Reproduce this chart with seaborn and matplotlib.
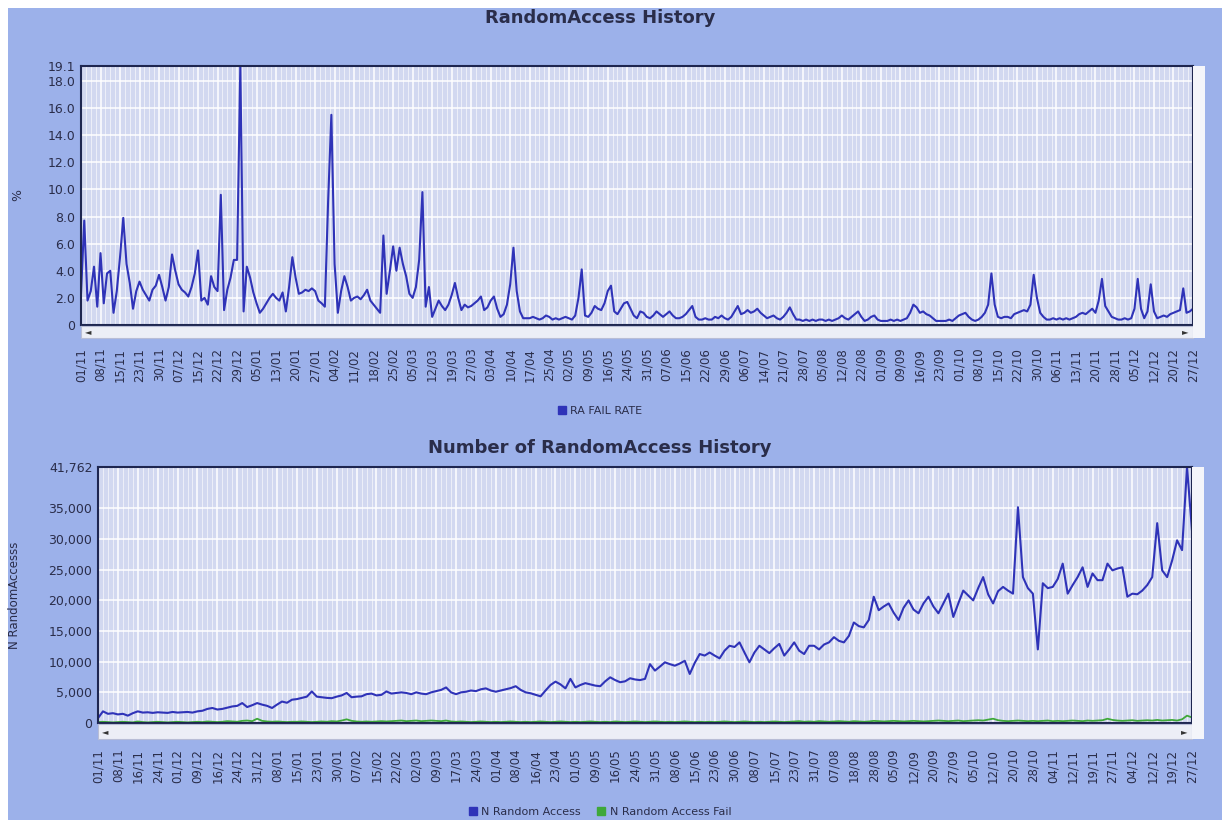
import numpy as np
import matplotlib
matplotlib.use("Agg")
import matplotlib.pyplot as plt
from matplotlib.patches import Rectangle, Patch
from matplotlib.ticker import MultipleLocator
import seaborn as sns

# RA fail rate (%), 6 samples per date label
fail_rate = [
    2.3, 7.7, 1.8, 2.5, 4.3, 1.35, 5.3, 1.6, 3.8, 4.0,
    0.9, 2.5, 5.0, 7.9, 4.5, 3.1, 1.2, 2.5, 3.2, 2.6,
    2.2, 1.8, 2.6, 2.9, 3.7, 2.8, 1.8, 2.8, 5.2, 4.0,
    3.0, 2.6, 2.4, 2.1, 2.8, 3.8, 5.5, 1.8, 2.0, 1.5,
    3.6, 2.8, 2.5, 9.6, 1.1, 2.6, 3.5, 4.8, 4.8, 19.1,
    1.0, 4.3, 3.5, 2.4, 1.6, 0.9, 1.2, 1.6, 2.0, 2.3,
    2.0, 1.8, 2.4, 1.0, 2.8, 5.0, 3.5, 2.3, 2.4, 2.6,
    2.5, 2.7, 2.5, 1.8, 1.6, 1.35, 9.1, 15.5, 4.5, 0.9,
    2.5, 3.6, 2.8, 1.8, 2.0, 2.1, 1.9, 2.2, 2.6, 1.8,
    1.5, 1.2, 0.9, 6.6, 2.3, 4.0, 5.8, 4.0, 5.7, 4.5,
    3.6, 2.3, 2.0, 2.8, 4.8, 9.8, 1.35, 2.8, 0.6, 1.2,
    1.8, 1.4, 1.1, 1.5, 2.2, 3.1, 2.0, 1.1, 1.5, 1.3,
    1.4, 1.6, 1.8, 2.1, 1.1, 1.3, 1.8, 2.1, 1.2, 0.6,
    0.8, 1.5, 3.0, 5.7, 2.5, 1.0, 0.5, 0.5, 0.5, 0.6,
    0.5, 0.4, 0.5, 0.7, 0.6, 0.4, 0.5, 0.4, 0.5, 0.6,
    0.5, 0.4, 0.7, 2.0, 4.1, 0.7, 0.6, 0.9, 1.4, 1.2,
    1.1, 1.6, 2.5, 2.9, 1.0, 0.8, 1.2, 1.6, 1.7, 1.2,
    0.7, 0.5, 1.0, 0.9, 0.6, 0.5, 0.7, 1.0, 0.8, 0.6,
    0.8, 1.0, 0.7, 0.5, 0.5, 0.6, 0.8, 1.1, 1.4, 0.6,
    0.4, 0.4, 0.5, 0.4, 0.4, 0.6, 0.5, 0.7, 0.5, 0.4,
    0.6, 1.0, 1.4, 0.8, 0.9, 1.1, 0.9, 1.0, 1.2, 0.9,
    0.7, 0.5, 0.6, 0.7, 0.5, 0.4, 0.6, 0.9, 1.3, 0.8,
    0.4, 0.4, 0.3, 0.4, 0.3, 0.4, 0.3, 0.4, 0.4, 0.3,
    0.4, 0.3, 0.4, 0.5, 0.7, 0.5, 0.4, 0.6, 0.8, 1.0,
    0.6, 0.3, 0.4, 0.6, 0.7, 0.4, 0.3, 0.3, 0.3, 0.4,
    0.3, 0.4, 0.3, 0.4, 0.5, 0.9, 1.5, 1.3, 0.9, 1.0,
    0.8, 0.7, 0.5, 0.3, 0.3, 0.3, 0.3, 0.4, 0.3, 0.5,
    0.7, 0.8, 0.9, 0.6, 0.4, 0.3, 0.4, 0.6, 0.9, 1.5,
    3.8, 1.5, 0.6, 0.5, 0.6, 0.6, 0.5, 0.8, 0.9, 1.0,
    1.1, 1.0, 1.5, 3.7, 2.0, 0.9, 0.6, 0.4, 0.4, 0.5,
    0.4, 0.5, 0.4, 0.5, 0.4, 0.5, 0.6, 0.8, 0.9, 0.8,
    1.0, 1.2, 0.9, 1.8, 3.4, 1.4, 1.0, 0.6, 0.5, 0.4,
    0.4, 0.5, 0.4, 0.5, 1.2, 3.4, 1.2, 0.5, 1.0, 3.0,
    1.0, 0.5, 0.6, 0.7, 0.6, 0.8, 0.9, 1.0, 1.1, 2.7,
    0.9, 1.0, 1.2,
]

top_dates = [
    "01/11", "08/11", "15/11", "23/11", "30/11", "07/12", "15/12", "22/12",
    "29/12", "05/01", "13/01", "20/01", "27/01", "04/02", "11/02", "18/02",
    "25/02", "05/03", "12/03", "19/03", "27/03", "03/04", "10/04", "17/04",
    "25/04", "02/05", "09/05", "16/05", "24/05", "31/05", "07/06", "15/06",
    "22/06", "29/06", "06/07", "14/07", "21/07", "28/07", "05/08", "12/08",
    "22/08", "01/09", "09/09", "16/09", "23/09", "01/10", "08/10", "15/10",
    "22/10", "30/10", "06/11", "13/11", "20/11", "28/11", "05/12", "12/12",
    "20/12", "27/12",
]

# number of random accesses, 4 samples per date label
n_access = [
    800, 1900, 1500, 1600, 1400, 1500, 1200, 1600, 1900, 1700,
    1750, 1650, 1750, 1700, 1650, 1800, 1700, 1750, 1800, 1700,
    1900, 2000, 2300, 2450, 2200, 2300, 2500, 2700, 2800, 3250,
    2600, 2900, 3250, 3000, 2800, 2450, 3000, 3500, 3300, 3800,
    3900, 4100, 4300, 5150, 4300, 4200, 4100, 4050, 4300, 4500,
    4900, 4200, 4300, 4350, 4700, 4800, 4500, 4600, 5150, 4800,
    4900, 5000, 4900, 4700, 5000, 4800, 4700, 5000, 5200, 5400,
    5800, 5000, 4700, 5000, 5100, 5300, 5200, 5500, 5650, 5300,
    5100, 5300, 5500, 5700, 6000, 5400, 5000, 4850, 4600, 4350,
    5300, 6200, 6750, 6300, 5650, 7200, 5800, 6200, 6500, 6300,
    6100, 6000, 6800, 7450, 7000, 6650, 6800, 7300, 7100, 7000,
    7200, 9600, 8550, 9200, 9900, 9600, 9350, 9700, 10150, 8000,
    9800, 11250, 11000, 11500, 11000, 10550, 11800, 12600, 12400, 13150,
    11500, 9900, 11500, 12600, 12000, 11400, 12200, 12900, 11000, 12000,
    13150, 11800, 11250, 12600, 12600, 12000, 12800, 13150, 14000, 13400,
    13150, 14200, 16400, 15800, 15600, 16800, 20600, 18400, 19000, 19500,
    18000, 16800, 18800, 20000, 18500, 17900, 19500, 20600, 19000, 17900,
    19500, 21100, 17300, 19500, 21600, 20800, 20000, 22000, 23800, 21000,
    19500, 21500, 22200, 21600, 21100, 35200, 23800, 22000, 21100, 12000,
    22800, 22000, 22200, 23500, 26000, 21100, 22500, 23800, 25400, 22200,
    24400, 23300, 23300, 26000, 24900, 25200, 25400, 20600, 21100, 21000,
    21600, 22500, 23800, 32600, 24900, 23800, 26500, 29800, 28200, 41762,
    31400,
]

n_access_fail = [
    150, 200, 150, 100, 150, 200, 150, 100, 250, 150,
    100, 150, 200, 150, 100, 150, 200, 150, 100, 150,
    200, 150, 250, 200, 150, 200, 300, 250, 200, 350,
    400, 300, 700, 350, 250, 200, 250, 200, 150, 200,
    200, 250, 200, 150, 200, 250, 200, 300, 250, 400,
    600, 350, 250, 200, 250, 200, 250, 300, 250, 300,
    350, 400, 300, 350, 400, 300, 350, 400, 350, 300,
    400, 250, 200, 250, 200, 150, 200, 250, 200, 150,
    200, 150, 200, 250, 200, 150, 200, 150, 200, 250,
    200, 150, 200, 250, 200, 150, 200, 150, 200, 250,
    200, 150, 200, 150, 250, 200, 150, 200, 250, 200,
    150, 200, 250, 200, 150, 200, 150, 200, 250, 200,
    150, 200, 150, 200, 150, 200, 250, 200, 150, 200,
    250, 200, 150, 200, 150, 200, 250, 200, 150, 200,
    250, 300, 200, 250, 200, 300, 250, 200, 250, 300,
    250, 200, 300, 250, 200, 250, 350, 300, 250, 300,
    350, 300, 250, 300, 350, 300, 250, 300, 350, 400,
    350, 300, 350, 400, 300, 350, 400, 450, 400, 550,
    700, 450, 350, 300, 350, 400, 350, 300, 350, 300,
    350, 400, 300, 350, 300, 350, 400, 350, 300, 400,
    350, 400, 450, 700, 500, 400, 350, 400, 450, 350,
    400, 450, 400, 500, 400, 450, 500, 400, 600, 1200,
    900,
]

bottom_dates = [
    "01/11", "08/11", "16/11", "24/11", "01/12", "09/12", "16/12", "24/12",
    "31/12", "08/01", "15/01", "23/01", "30/01", "07/02", "15/02", "22/02",
    "02/03", "09/03", "17/03", "24/03", "01/04", "08/04", "16/04", "23/04",
    "01/05", "09/05", "16/05", "24/05", "31/05", "08/06", "15/06", "23/06",
    "30/06", "08/07", "15/07", "23/07", "31/07", "07/08", "18/08", "28/08",
    "05/09", "12/09", "20/09", "27/09", "05/10", "12/10", "20/10", "28/10",
    "04/11", "12/11", "19/11", "27/11", "04/12", "12/12", "19/12", "27/12",
]

sns.set_theme(style="white")
plt.rcParams['font.family'] = ['DejaVu Sans']

BG = "#9cb1ea"
PLOT_BG = "#d2d8f0"
LINE = "#2f33b8"
GREEN = "#3fa83a"
TXT = "#2a2d4a"
FRAME = "#1e2650"

W, H = 1226, 825
fig = plt.figure(figsize=(W / 100, H / 100), dpi=100)
fig.patch.set_facecolor("white")
fig.patches.append(Rectangle((8 / W, 5 / H), 1214 / W, 812 / H, transform=fig.transFigure,
                             facecolor=BG, edgecolor="none", zorder=-10))


def px(x0, y0, x1, y1):
    return [x0 / W, 1 - y1 / H, (x1 - x0) / W, (y1 - y0) / H]


def style_plot(ax, n, step, minor):
    ax.set_facecolor(PLOT_BG)
    ax.set_xlim(0, n - 1)
    ax.set_xticks(range(0, n, step))
    ax.xaxis.set_minor_locator(MultipleLocator(minor))
    ax.tick_params(axis="x", which="both", length=0, labelbottom=False)
    ax.tick_params(axis="y", length=3, color=FRAME, labelsize=9, labelcolor=TXT, pad=1)
    ax.grid(which="major", color="white", linewidth=1.1)
    ax.grid(which="minor", axis="x", color="white", linewidth=0.6, alpha=0.7)
    for s in ax.spines.values():
        s.set_color(FRAME)
        s.set_linewidth(1.5)
    ax.set_xlabel("")
    ax.set_ylabel("")


def scrollbar(rect, n, step, labels):
    sb = fig.add_axes(rect)
    sb.set_facecolor("#eceef6")
    sb.set_xlim(0, n - 1)
    sb.set_ylim(0, 1)
    sb.set_yticks([])
    sb.set_xticks(range(0, n, step))
    sb.set_xticklabels(labels, rotation=90, fontsize=8.5, color=TXT)
    sb.tick_params(axis="x", length=4, width=1, color=TXT, pad=3, direction="out")
    for s in sb.spines.values():
        s.set_color("#b8bdd6")
        s.set_linewidth(0.8)
    sb.text(0.004, 0.5, "\u25c4", transform=sb.transAxes, fontsize=6, color="#333",
            va="center", ha="left")
    sb.text(0.996, 0.5, "\u25ba", transform=sb.transAxes, fontsize=6, color="#333",
            va="center", ha="right")
    return sb


# top chart
n_top = len(fail_rate)
ax1 = fig.add_axes(px(81, 66, 1193, 325))
sns.lineplot(x=np.arange(n_top), y=fail_rate, ax=ax1, color=LINE, linewidth=1.5, legend=False)
style_plot(ax1, n_top, 6, 1.5)
ax1.set_ylim(0, 19.1)
yt = [0, 2, 4, 6, 8, 10, 12, 14, 16, 18, 19.1]
ax1.set_yticks(yt)
ax1.set_yticklabels(["0"] + [f"{v:.1f}" for v in yt[1:]])
scrollbar(px(81, 326, 1193, 338), n_top, 6, top_dates)
side = fig.add_axes(px(1193, 66, 1205, 338))
side.set_facecolor("#f4f5fa")
side.set_xticks([]); side.set_yticks([])
for s in side.spines.values():
    s.set_visible(False)

# bottom chart
n_bot = len(n_access)
ax2 = fig.add_axes(px(98, 467, 1192, 723))
sns.lineplot(x=np.arange(n_bot), y=n_access_fail, ax=ax2, color=GREEN, linewidth=1.3, legend=False)
sns.lineplot(x=np.arange(n_bot), y=n_access, ax=ax2, color=LINE, linewidth=1.5, legend=False)
style_plot(ax2, n_bot, 4, 1)
ax2.set_ylim(0, 41762)
yt2 = [0, 5000, 10000, 15000, 20000, 25000, 30000, 35000, 41762]
ax2.set_yticks(yt2)
ax2.set_yticklabels([f"{v:,}" for v in yt2])
scrollbar(px(98, 724, 1192, 739), n_bot, 4, bottom_dates)
side2 = fig.add_axes(px(1192, 467, 1204, 739))
side2.set_facecolor("#f4f5fa")
side2.set_xticks([]); side2.set_yticks([])
for s in side2.spines.values():
    s.set_visible(False)

# titles, axis names, legends
fig.text(600 / W, 1 - 18 / H, "RandomAccess History", ha="center", va="center",
         fontsize=13, fontweight="bold", color=TXT)
fig.text(600 / W, 1 - 448 / H, "Number of RandomAccess History", ha="center", va="center",
         fontsize=13, fontweight="bold", color=TXT)
fig.text(18 / W, 1 - 195 / H, "%", rotation=90, ha="center", va="center", fontsize=9, color=TXT)
fig.text(15 / W, 1 - 595 / H, "N RandomAccesss", rotation=90, ha="center", va="center",
         fontsize=8.5, color=TXT)

fig.legend(handles=[Patch(color=LINE, label="RA FAIL RATE")], loc="center",
           bbox_to_anchor=(600 / W, 1 - 411 / H), frameon=False, fontsize=8,
           handlelength=0.7, handleheight=0.7, handletextpad=0.4, labelcolor=TXT)
fig.legend(handles=[Patch(color=LINE, label="N Random Access"),
                    Patch(color=GREEN, label="N Random Access Fail")],
           loc="center", ncol=2, bbox_to_anchor=(600 / W, 1 - 812 / H), frameon=False,
           fontsize=8, handlelength=0.7, handleheight=0.7, handletextpad=0.4,
           columnspacing=1.5, labelcolor=TXT)

fig.savefig("out.png", dpi=100)
